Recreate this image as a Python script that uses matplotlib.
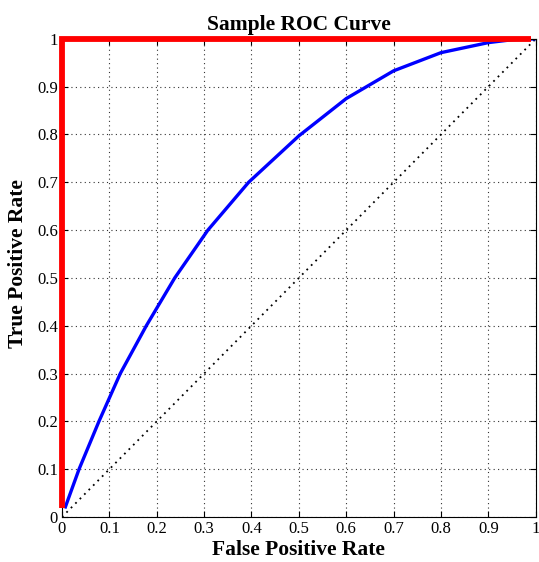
import numpy as np
import matplotlib
matplotlib.use("Agg")
import matplotlib.pyplot as plt

# ROC data
fpr_blue = [0.006, 0.036, 0.078, 0.123, 0.178, 0.238, 0.308, 0.394,
            0.5, 0.6, 0.7, 0.8, 0.9, 0.95, 1.0]
tpr_blue = [0.018, 0.1, 0.2, 0.3, 0.4, 0.5, 0.6, 0.7,
            0.797, 0.875, 0.933, 0.971, 0.992, 0.998, 1.0]
fpr_red = [0.0, 0.0, 0.99]
tpr_red = [0.018, 1.0, 1.0]
chance = [0.0, 1.0]
ticks = [0, 0.1, 0.2, 0.3, 0.4, 0.5, 0.6, 0.7, 0.8, 0.9, 1]
tick_labels = ["0", "0.1", "0.2", "0.3", "0.4", "0.5", "0.6", "0.7", "0.8", "0.9", "1"]

plt.rcParams['font.family'] = ['Liberation Serif', 'DejaVu Serif']

fig = plt.figure(figsize=(5.39, 5.62), dpi=100)
ax = fig.add_axes([0.115, 0.080, 0.879, 0.851])

# diagonal chance line
ax.plot(chance, chance, color='black', linestyle=(0, (1, 2.5)), linewidth=1.3)
ax.plot(fpr_blue, tpr_blue, color='#0000ff', linewidth=2.4, solid_capstyle='butt')
ax.plot(fpr_red, tpr_red, color='#ff0000', linewidth=4.2, solid_joinstyle='miter',
        solid_capstyle='butt', clip_on=False, zorder=5)

ax.set_xlim(0, 1)
ax.set_ylim(0, 1)
ax.set_xticks(ticks)
ax.set_xticklabels(tick_labels)
ax.set_yticks(ticks)
ax.set_yticklabels(tick_labels)
ax.tick_params(direction='in', top=True, right=True, labelsize=12, length=4, pad=3)
ax.grid(True, linestyle=(0, (1, 3)), color='#333333', linewidth=0.8)

ax.set_title('Sample ROC Curve', fontsize=15.5, fontweight='bold', pad=6)
ax.set_xlabel('False Positive Rate', fontsize=15.5, fontweight='bold', labelpad=2)
ax.set_ylabel('True Positive Rate', fontsize=15.5, fontweight='bold')
ax.yaxis.set_label_coords(-0.071, 0.53)

fig.savefig('out.png', dpi=100)
